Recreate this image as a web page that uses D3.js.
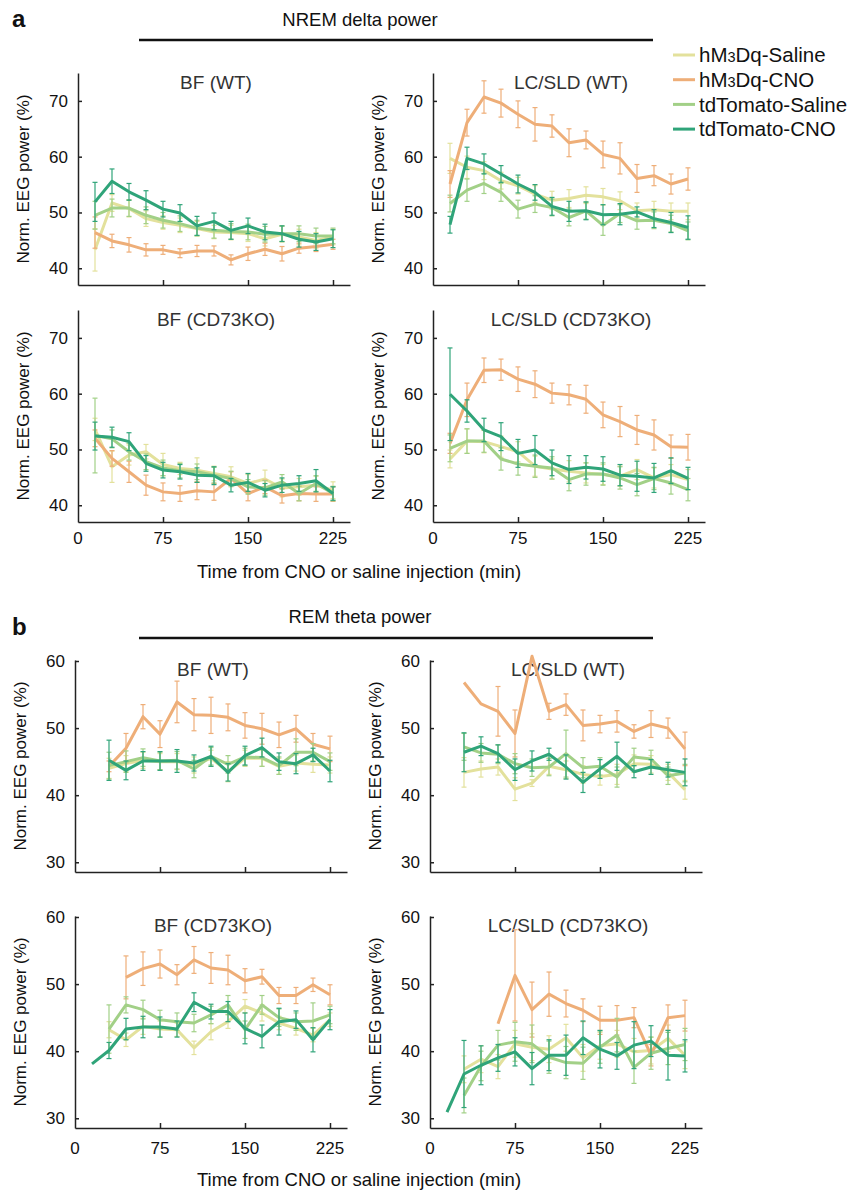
<!DOCTYPE html>
<html>
<head>
<meta charset="utf-8">
<script src="https://cdn.jsdelivr.net/npm/d3@7"></script>
<style>
  body { margin: 0; background: #fff; }
  svg { display: block; font-family: Arial, "Liberation Sans", sans-serif; }
</style>
</head>
<body>
<svg id="fig" width="855" height="1191"></svg>
<script>
// time bins (min after injection)
let times = [15, 30, 45, 60, 75, 90, 105, 120, 135, 150, 165, 180, 195, 210, 225];

let seriesNames = ["hM3Dq-Saline", "hM3Dq-CNO", "tdTomato-Saline", "tdTomato-CNO"];
let seriesColors = ["#e3e19c", "#eeae78", "#a2d087", "#2fa479"];

let xTicks = [0, 75, 150, 225];
let nremTicks = [40, 50, 60, 70];
let remTicks = [30, 40, 50, 60];

// a: NREM delta power, BF (WT)
let aBfWtSal = [43.3, 51.7, 50.7, 48.9, 48.2, 47.7, 47.1, 46.5, 46.4, 46.2, 45.3, 46.1, 45.6, 45.0, 45.6];
let aBfWtSalErr = [3.8, 1.5, 1.5, 1.4, 1.2, 1.3, 1.3, 1.2, 1.3, 1.4, 1.3, 1.4, 1.4, 1.4, 1.4];
let aBfWtCno = [46.4, 44.9, 44.2, 43.3, 43.3, 42.7, 43.1, 43.1, 41.5, 42.6, 43.4, 42.6, 43.6, 43.9, 44.3];
let aBfWtCnoErr = [2.8, 1.2, 1.3, 1.1, 0.8, 0.8, 1.0, 0.9, 0.9, 1.2, 1.1, 1.3, 0.9, 0.9, 0.9];
let aBfWtTdSal = [49.5, 50.8, 50.8, 49.5, 48.6, 48.0, 47.2, 46.8, 46.6, 46.5, 46.1, 46.2, 46.2, 45.8, 45.8];
let aBfWtTdSalErr = [2.5, 1.6, 1.5, 1.5, 1.4, 1.4, 1.4, 1.4, 1.4, 1.4, 1.4, 1.4, 1.4, 1.4, 1.4];
let aBfWtTdCno = [51.9, 55.6, 53.7, 52.2, 50.6, 49.9, 47.6, 48.4, 46.8, 47.6, 46.5, 46.2, 45.2, 44.7, 45.3];
let aBfWtTdCnoErr = [3.5, 2.2, 1.5, 1.7, 1.4, 1.5, 1.7, 1.5, 1.6, 1.4, 1.4, 1.4, 1.4, 1.5, 1.6];

// a: LC/SLD (WT)
let aLcWtSal = [59.7, 58.1, 57.5, 55.7, 54.8, 53.3, 52.2, 52.5, 53.1, 52.8, 52.1, 50.3, 50.5, 50.2, 50.2];
let aLcWtSalErr = [2.7, 2.0, 1.6, 1.5, 1.5, 1.5, 1.6, 1.6, 1.5, 1.5, 1.6, 1.4, 1.5, 1.5, 1.5];
let aLcWtCno = [55.1, 66.1, 70.7, 69.6, 67.6, 65.8, 65.5, 62.5, 63.0, 60.4, 59.7, 56.1, 56.6, 55.1, 56.0];
let aLcWtCnoErr = [2.4, 2.4, 2.9, 2.5, 2.4, 3.0, 2.0, 2.5, 1.6, 2.4, 2.8, 2.5, 1.8, 1.8, 2.0];
let aLcWtTdSal = [51.6, 54.0, 55.2, 53.6, 50.6, 51.5, 50.9, 49.1, 50.3, 47.7, 49.8, 48.5, 48.6, 48.0, 46.7];
let aLcWtTdSalErr = [1.5, 2.0, 1.8, 1.6, 1.6, 1.5, 1.5, 1.5, 1.5, 1.8, 1.6, 1.5, 1.5, 1.5, 1.6];
let aLcWtTdCno = [47.8, 59.7, 58.7, 56.9, 55.1, 53.6, 51.1, 50.2, 50.3, 49.6, 49.7, 50.1, 48.9, 48.2, 47.3];
let aLcWtTdCnoErr = [1.5, 2.0, 1.8, 1.5, 1.6, 1.4, 1.6, 1.8, 1.6, 1.8, 1.9, 0.9, 1.6, 1.8, 2.1];

// a: BF (CD73KO)
let aBfKoSal = [53.6, 46.9, 49.0, 49.6, 47.3, 46.6, 46.3, 45.7, 45.1, 43.9, 44.7, 43.1, 43.3, 43.6, 42.7];
let aBfKoSalErr = [2.0, 2.8, 1.8, 1.3, 2.0, 1.1, 2.2, 1.3, 1.8, 1.6, 1.6, 1.6, 1.5, 1.6, 1.5];
let aBfKoCno = [52.0, 48.4, 46.0, 43.6, 42.4, 42.1, 42.6, 42.4, 44.8, 42.1, 43.3, 41.7, 42.1, 42.0, 42.0];
let aBfKoCnoErr = [1.5, 1.4, 1.9, 1.8, 1.6, 1.4, 1.6, 1.5, 1.2, 1.3, 1.2, 1.3, 1.3, 1.3, 1.3];
let aBfKoTdSal = [52.5, 51.9, 49.6, 47.8, 46.7, 46.2, 46.0, 45.4, 44.8, 43.3, 43.1, 44.2, 42.1, 43.9, 42.1];
let aBfKoTdSalErr = [6.7, 1.6, 1.5, 1.4, 1.4, 1.3, 1.4, 1.4, 1.3, 1.3, 1.3, 1.3, 1.3, 1.4, 1.3];
let aBfKoTdCno = [52.4, 52.2, 51.4, 47.5, 46.3, 46.0, 45.4, 45.3, 43.6, 44.1, 42.7, 43.6, 43.9, 44.4, 42.1];
let aBfKoTdCnoErr = [2.5, 1.8, 1.6, 1.4, 1.4, 1.3, 1.3, 1.6, 1.2, 1.6, 1.2, 1.3, 1.4, 2.0, 1.2];

// a: LC/SLD (CD73KO)
let aLcKoSal = [48.3, 51.5, 51.4, 50.5, 49.6, 47.0, 46.5, 46.1, 45.8, 45.5, 45.2, 46.4, 44.9, 45.5, 44.6];
let aLcKoSalErr = [1.6, 2.2, 2.0, 1.9, 1.8, 1.8, 1.8, 1.9, 1.8, 1.8, 1.8, 1.8, 1.8, 1.8, 1.8];
let aLcKoCno = [51.1, 58.9, 64.2, 64.3, 62.6, 61.7, 60.1, 59.8, 59.0, 56.2, 55.0, 53.5, 52.6, 50.5, 50.4];
let aLcKoCnoErr = [1.8, 3.0, 2.2, 1.9, 2.2, 2.4, 1.8, 1.8, 2.5, 2.3, 2.7, 2.6, 2.7, 2.1, 2.3];
let aLcKoTdSal = [50.2, 51.5, 51.5, 48.3, 47.4, 47.0, 46.7, 44.6, 45.6, 45.6, 44.9, 43.7, 44.8, 44.0, 42.8];
let aLcKoTdSalErr = [2.4, 2.2, 2.0, 2.0, 2.0, 2.0, 2.0, 2.0, 2.0, 2.0, 2.0, 2.0, 2.0, 2.0, 2.0];
let aLcKoTdCno = [59.9, 56.9, 53.5, 52.3, 49.3, 49.9, 47.6, 46.4, 46.8, 46.5, 45.4, 45.2, 44.9, 46.2, 44.8];
let aLcKoTdCnoErr = [8.3, 2.0, 2.1, 2.5, 2.5, 2.6, 2.3, 2.5, 2.1, 2.2, 1.9, 2.7, 2.6, 2.3, 2.0];

// b: REM theta power, BF (WT)
let bBfWtSal = [null, 44.0, 44.7, 45.2, 45.0, 45.0, 44.5, 45.5, 43.5, 45.5, 45.5, 44.3, 44.8, 44.6, 44.5];
let bBfWtSalErr = [null, 1.5, 1.2, 1.2, 1.2, 1.2, 1.2, 1.2, 1.5, 1.2, 1.2, 1.2, 1.2, 1.2, 1.2];
let bBfWtCno = [null, 44.3, 47.0, 51.7, 49.1, 53.9, 52.0, 51.9, 51.6, 50.4, 49.9, 49.0, 49.9, 47.6, 46.9];
let bBfWtCnoErr = [null, 0.8, 2.2, 1.8, 2.0, 3.1, 2.4, 2.7, 2.0, 1.9, 2.3, 1.9, 2.0, 1.6, 1.9];
let bBfWtTdSal = [null, 44.4, 45.0, 45.6, 45.1, 45.2, 43.9, 45.8, 44.6, 45.7, 45.6, 44.4, 46.4, 46.4, 45.0];
let bBfWtTdSalErr = [null, 2.0, 1.6, 1.3, 1.3, 1.3, 1.3, 1.3, 1.3, 1.3, 1.3, 1.3, 2.0, 1.3, 1.3];
let bBfWtTdCno = [null, 45.2, 43.7, 45.1, 45.1, 45.1, 44.8, 45.8, 43.4, 45.9, 47.1, 45.0, 44.7, 46.0, 43.6];
let bBfWtTdCnoErr = [null, 3.0, 1.4, 1.4, 1.4, 1.7, 1.2, 1.5, 1.3, 1.4, 1.4, 1.3, 1.5, 1.0, 1.6];

// b: LC/SLD (WT)
let bLcWtSal = [null, 43.4, 43.9, 44.2, 40.9, 41.8, 44.3, 43.8, 43.1, 42.8, 43.1, 44.7, 44.6, 43.4, 40.8];
let bLcWtSalErr = [null, 2.2, 1.2, 1.2, 1.7, 0.5, 1.2, 1.3, 1.3, 1.3, 1.5, 1.3, 1.3, 1.2, 1.4];
let bLcWtCno = [null, 56.8, 53.6, 52.5, 49.2, 60.7, 52.5, 53.5, 50.4, 50.6, 51.0, 49.5, 50.6, 50.0, 46.9];
let bLcWtCnoErr = [null, 0, 0, 3.7, 3.5, 0, 1.2, 1.6, 2.3, 1.3, 1.6, 1.0, 2.0, 1.5, 2.5];
let bLcWtTdSal = [null, 47.2, 46.3, 46.1, 44.7, 44.1, 44.2, 46.2, 44.1, 44.3, 42.7, 45.7, 45.4, 42.9, 43.3];
let bLcWtTdSalErr = [null, 2.0, 1.4, 1.4, 1.5, 1.3, 1.3, 3.5, 1.5, 1.3, 1.5, 1.3, 1.3, 1.3, 1.3];
let bLcWtTdCno = [null, 46.4, 47.3, 46.2, 43.8, 45.1, 46.1, 44.2, 41.9, 43.9, 45.8, 43.5, 44.2, 43.8, 43.4];
let bLcWtTdCnoErr = [null, 2.9, 1.4, 1.3, 1.6, 1.5, 0.9, 1.8, 1.5, 1.4, 2.1, 0.9, 1.1, 1.1, 2.0];

// b: BF (CD73KO)
let bBfKoSal = [null, 43.2, 41.7, 43.7, 43.3, 43.2, 40.5, 42.9, 44.4, 46.7, 45.7, 44.2, 43.4, 42.4, 44.7];
let bBfKoSalErr = [null, 1.2, 1.0, 1.2, 1.2, 1.0, 1.0, 1.2, 1.0, 1.0, 1.2, 1.0, 1.0, 1.0, 1.0];
let bBfKoCno = [null, null, 51.0, 52.3, 53.0, 51.4, 53.6, 52.4, 52.1, 50.5, 51.1, 48.3, 48.3, 49.9, 48.4];
let bBfKoCnoErr = [null, null, 3.2, 2.5, 2.1, 1.5, 2.0, 2.3, 2.2, 1.8, 1.1, 1.2, 1.2, 1.0, 1.5];
let bBfKoTdSal = [null, 43.3, 46.9, 46.2, 44.7, 44.4, 44.2, 45.4, 46.9, 43.2, 46.9, 45.0, 44.4, 44.5, 45.4];
let bBfKoTdSalErr = [null, 3.6, 1.2, 1.4, 1.4, 1.3, 1.3, 1.3, 1.4, 1.3, 1.4, 1.3, 1.3, 2.7, 1.3];
let bBfKoTdCno = [38.1, 40.1, 43.3, 43.6, 43.6, 43.3, 47.3, 45.9, 45.9, 43.4, 42.2, 44.4, 44.7, 41.7, 44.7];
let bBfKoTdCnoErr = [null, 1.2, 1.6, 1.6, 1.5, 1.2, 1.4, 1.1, 1.5, 2.3, 1.7, 2.0, 1.3, 1.8, 1.5];

// b: LC/SLD (CD73KO)
let bLcKoSal = [null, 37.3, 38.8, 37.7, 41.1, 40.6, 40.3, 42.0, 39.0, 40.8, 41.1, 39.9, 40.1, 41.9, 39.4];
let bLcKoSalErr = [null, 2.0, 2.0, 1.8, 2.0, 2.0, 2.0, 2.0, 2.0, 2.0, 2.0, 2.0, 2.0, 2.0, 2.0];
let bLcKoCno = [null, null, null, 44.1, 51.3, 46.2, 48.5, 47.1, 46.1, 44.6, 44.6, 45.0, 39.4, 45.0, 45.3];
let bLcKoCnoErr = [null, null, null, 0, 6.8, 4.1, 3.3, 2.0, 1.7, 2.1, 2.2, 1.5, 1.6, 1.9, 2.3];
let bLcKoTdSal = [null, 33.4, 37.8, 40.9, 41.4, 41.1, 39.1, 38.3, 38.2, 40.6, 42.4, 37.6, 39.7, 40.4, 41.0];
let bLcKoTdSalErr = [null, 2.6, 2.2, 2.2, 2.9, 2.8, 2.4, 2.4, 2.4, 2.4, 2.5, 2.4, 2.4, 2.4, 2.4];
let bLcKoTdCno = [30.9, 36.6, 37.9, 39.0, 39.9, 37.4, 39.4, 39.4, 42.0, 40.3, 39.3, 40.9, 41.5, 39.4, 39.3];
let bLcKoTdCnoErr = [null, 5.0, 2.9, 2.0, 2.1, 2.4, 2.3, 3.0, 2.5, 2.8, 2.0, 3.5, 2.3, 3.7, 2.4];

let svg = d3.select("#fig");
let axisColor = "#222";

// panel boxes: x range, y range, y domain
let panels = [
    { title: "BF (WT)", x: [78, 350], y: [285, 73], dom: [37, 75], ticks: nremTicks, xLabels: false, lab: 0,
      s: [[aBfWtSal, aBfWtSalErr], [aBfWtCno, aBfWtCnoErr], [aBfWtTdSal, aBfWtTdSalErr], [aBfWtTdCno, aBfWtTdCnoErr]] },
    { title: "LC/SLD (WT)", x: [433, 705], y: [285, 73], dom: [37, 75], ticks: nremTicks, xLabels: false, lab: 0,
      s: [[aLcWtSal, aLcWtSalErr], [aLcWtCno, aLcWtCnoErr], [aLcWtTdSal, aLcWtTdSalErr], [aLcWtTdCno, aLcWtTdCnoErr]] },
    { title: "BF (CD73KO)", x: [78, 350], y: [522, 310], dom: [37, 75], ticks: nremTicks, xLabels: true, lab: 16,
      s: [[aBfKoSal, aBfKoSalErr], [aBfKoCno, aBfKoCnoErr], [aBfKoTdSal, aBfKoTdSalErr], [aBfKoTdCno, aBfKoTdCnoErr]] },
    { title: "LC/SLD (CD73KO)", x: [433, 705], y: [522, 310], dom: [37, 75], ticks: nremTicks, xLabels: true, lab: 16,
      s: [[aLcKoSal, aLcKoSalErr], [aLcKoCno, aLcKoCnoErr], [aLcKoTdSal, aLcKoTdSalErr], [aLcKoTdCno, aLcKoTdCnoErr]] },
    { title: "BF (WT)", x: [75, 347], y: [872, 660], dom: [28.55, 60.15], ticks: remTicks, xLabels: false, lab: 0,
      s: [[bBfWtSal, bBfWtSalErr], [bBfWtCno, bBfWtCnoErr], [bBfWtTdSal, bBfWtTdSalErr], [bBfWtTdCno, bBfWtTdCnoErr]] },
    { title: "LC/SLD (WT)", x: [430, 702], y: [872, 660], dom: [28.55, 60.15], ticks: remTicks, xLabels: false, lab: 0,
      s: [[bLcWtSal, bLcWtSalErr], [bLcWtCno, bLcWtCnoErr], [bLcWtTdSal, bLcWtTdSalErr], [bLcWtTdCno, bLcWtTdCnoErr]] },
    { title: "BF (CD73KO)", x: [75, 347], y: [1128, 916], dom: [28.55, 60.15], ticks: remTicks, xLabels: true, lab: 20,
      s: [[bBfKoSal, bBfKoSalErr], [bBfKoCno, bBfKoCnoErr], [bBfKoTdSal, bBfKoTdSalErr], [bBfKoTdCno, bBfKoTdCnoErr]] },
    { title: "LC/SLD (CD73KO)", x: [430, 702], y: [1128, 916], dom: [28.55, 60.15], ticks: remTicks, xLabels: true, lab: 20,
      s: [[bLcKoSal, bLcKoSalErr], [bLcKoCno, bLcKoCnoErr], [bLcKoTdSal, bLcKoTdSalErr], [bLcKoTdCno, bLcKoTdCnoErr]] }
];

let drawPanel = function (p) {
    let xScale = d3.scaleLinear().domain([0, 240]).range(p.x);
    let yScale = d3.scaleLinear().domain(p.dom).range(p.y);
    let g = svg.append("g");

    // axes
    let yAxis = g.append("g")
        .attr("transform", `translate(${p.x[0]},0)`)
        .call(d3.axisLeft(yScale).tickValues(p.ticks).tickSizeInner(-4).tickSizeOuter(0).tickPadding(10));
    let xAxis = g.append("g")
        .attr("transform", `translate(0,${p.y[0]})`)
        .call(d3.axisBottom(xScale).tickValues(xTicks.slice(1)).tickSizeInner(-5).tickSizeOuter(0));
    xAxis.selectAll("text").remove();
    [yAxis, xAxis].forEach(a => {
        a.select(".domain").attr("stroke", axisColor).attr("stroke-width", 1.5);
        a.selectAll(".tick line").attr("stroke", axisColor).attr("stroke-width", 1.5);
    });
    yAxis.selectAll("text").attr("font-size", 17).attr("fill", "#111");

    if (p.xLabels) {
        g.selectAll(".xlab").data(xTicks).enter().append("text")
            .attr("x", d => xScale(d)).attr("y", p.y[0] + p.lab)
            .attr("dy", "0.35em").attr("text-anchor", "middle")
            .attr("font-size", 17).attr("fill", "#111").text(d => d);
    }

    // title
    g.append("text").attr("x", (p.x[0] + p.x[1]) / 2 + 2).attr("y", p.y[1] + 16)
        .attr("text-anchor", "middle").attr("font-size", 19).attr("fill", "#333").text(p.title);

    // y label
    g.append("text")
        .attr("transform", `translate(${p.x[0] - 55},${(p.y[0] + p.y[1]) / 2}) rotate(-90)`)
        .attr("text-anchor", "middle").attr("dy", "0.35em")
        .attr("font-size", 17).attr("fill", "#111").text("Norm. EEG power (%)");

    let line = d3.line()
        .defined(d => d.v != null)
        .x(d => xScale(d.t)).y(d => yScale(d.v));

    p.s.forEach((pair, i) => {
        let pts = times.map((t, k) => ({ t: t, v: pair[0][k], e: pair[1][k] }));
        let col = seriesColors[i];
        let eb = pts.filter(d => d.v != null && d.e);
        let eg = g.append("g").attr("stroke", col).attr("stroke-width", 1.2);
        eg.selectAll(".v").data(eb).enter().append("line")
            .attr("x1", d => xScale(d.t)).attr("x2", d => xScale(d.t))
            .attr("y1", d => yScale(d.v - d.e)).attr("y2", d => yScale(d.v + d.e));
        eg.selectAll(".c1").data(eb).enter().append("line")
            .attr("x1", d => xScale(d.t) - 2.5).attr("x2", d => xScale(d.t) + 2.5)
            .attr("y1", d => yScale(d.v - d.e)).attr("y2", d => yScale(d.v - d.e));
        eg.selectAll(".c2").data(eb).enter().append("line")
            .attr("x1", d => xScale(d.t) - 2.5).attr("x2", d => xScale(d.t) + 2.5)
            .attr("y1", d => yScale(d.v + d.e)).attr("y2", d => yScale(d.v + d.e));
        g.append("path").datum(pts)
            .attr("d", line).attr("fill", "none")
            .attr("stroke", col).attr("stroke-width", 3)
            .attr("stroke-linejoin", "round");
    });
};

panels.forEach(drawPanel);

// section headers
let headers = [
    { letter: "a", ly: 27, title: "NREM delta power", ty: 26, rule: 40, xlab: 572 },
    { letter: "b", ly: 635, title: "REM theta power", ty: 623, rule: 638, xlab: 1180 }
];
headers.forEach(h => {
    svg.append("text").attr("x", 12).attr("y", h.ly).attr("font-size", 24)
        .attr("font-weight", "bold").attr("fill", "#111").text(h.letter);
    svg.append("text").attr("x", 360).attr("y", h.ty).attr("text-anchor", "middle")
        .attr("font-size", 18.5).attr("fill", "#111").text(h.title);
    svg.append("line").attr("x1", 139).attr("x2", 653).attr("y1", h.rule).attr("y2", h.rule)
        .attr("stroke", "#111").attr("stroke-width", 2.5);
    svg.append("text").attr("x", 359).attr("y", h.xlab).attr("dy", "0.35em")
        .attr("text-anchor", "middle").attr("font-size", 18.5).attr("fill", "#111")
        .text("Time from CNO or saline injection (min)");
});

// legend
let legend = svg.append("g");
seriesNames.forEach((name, i) => {
    let y = 55 + i * 24.7;
    legend.append("line").attr("x1", 673).attr("x2", 695).attr("y1", y).attr("y2", y)
        .attr("stroke", seriesColors[i]).attr("stroke-width", 3);
    let t = legend.append("text").attr("x", 699).attr("y", y).attr("dy", "0.35em")
        .attr("font-size", 20.5).attr("fill", "#111");
    if (name.startsWith("hM3")) {
        t.append("tspan").text("hM");
        t.append("tspan").attr("font-size", 14.5).text("3");
        t.append("tspan").text(name.slice(3));
    } else {
        t.text(name);
    }
});
</script>
</body>
</html>
